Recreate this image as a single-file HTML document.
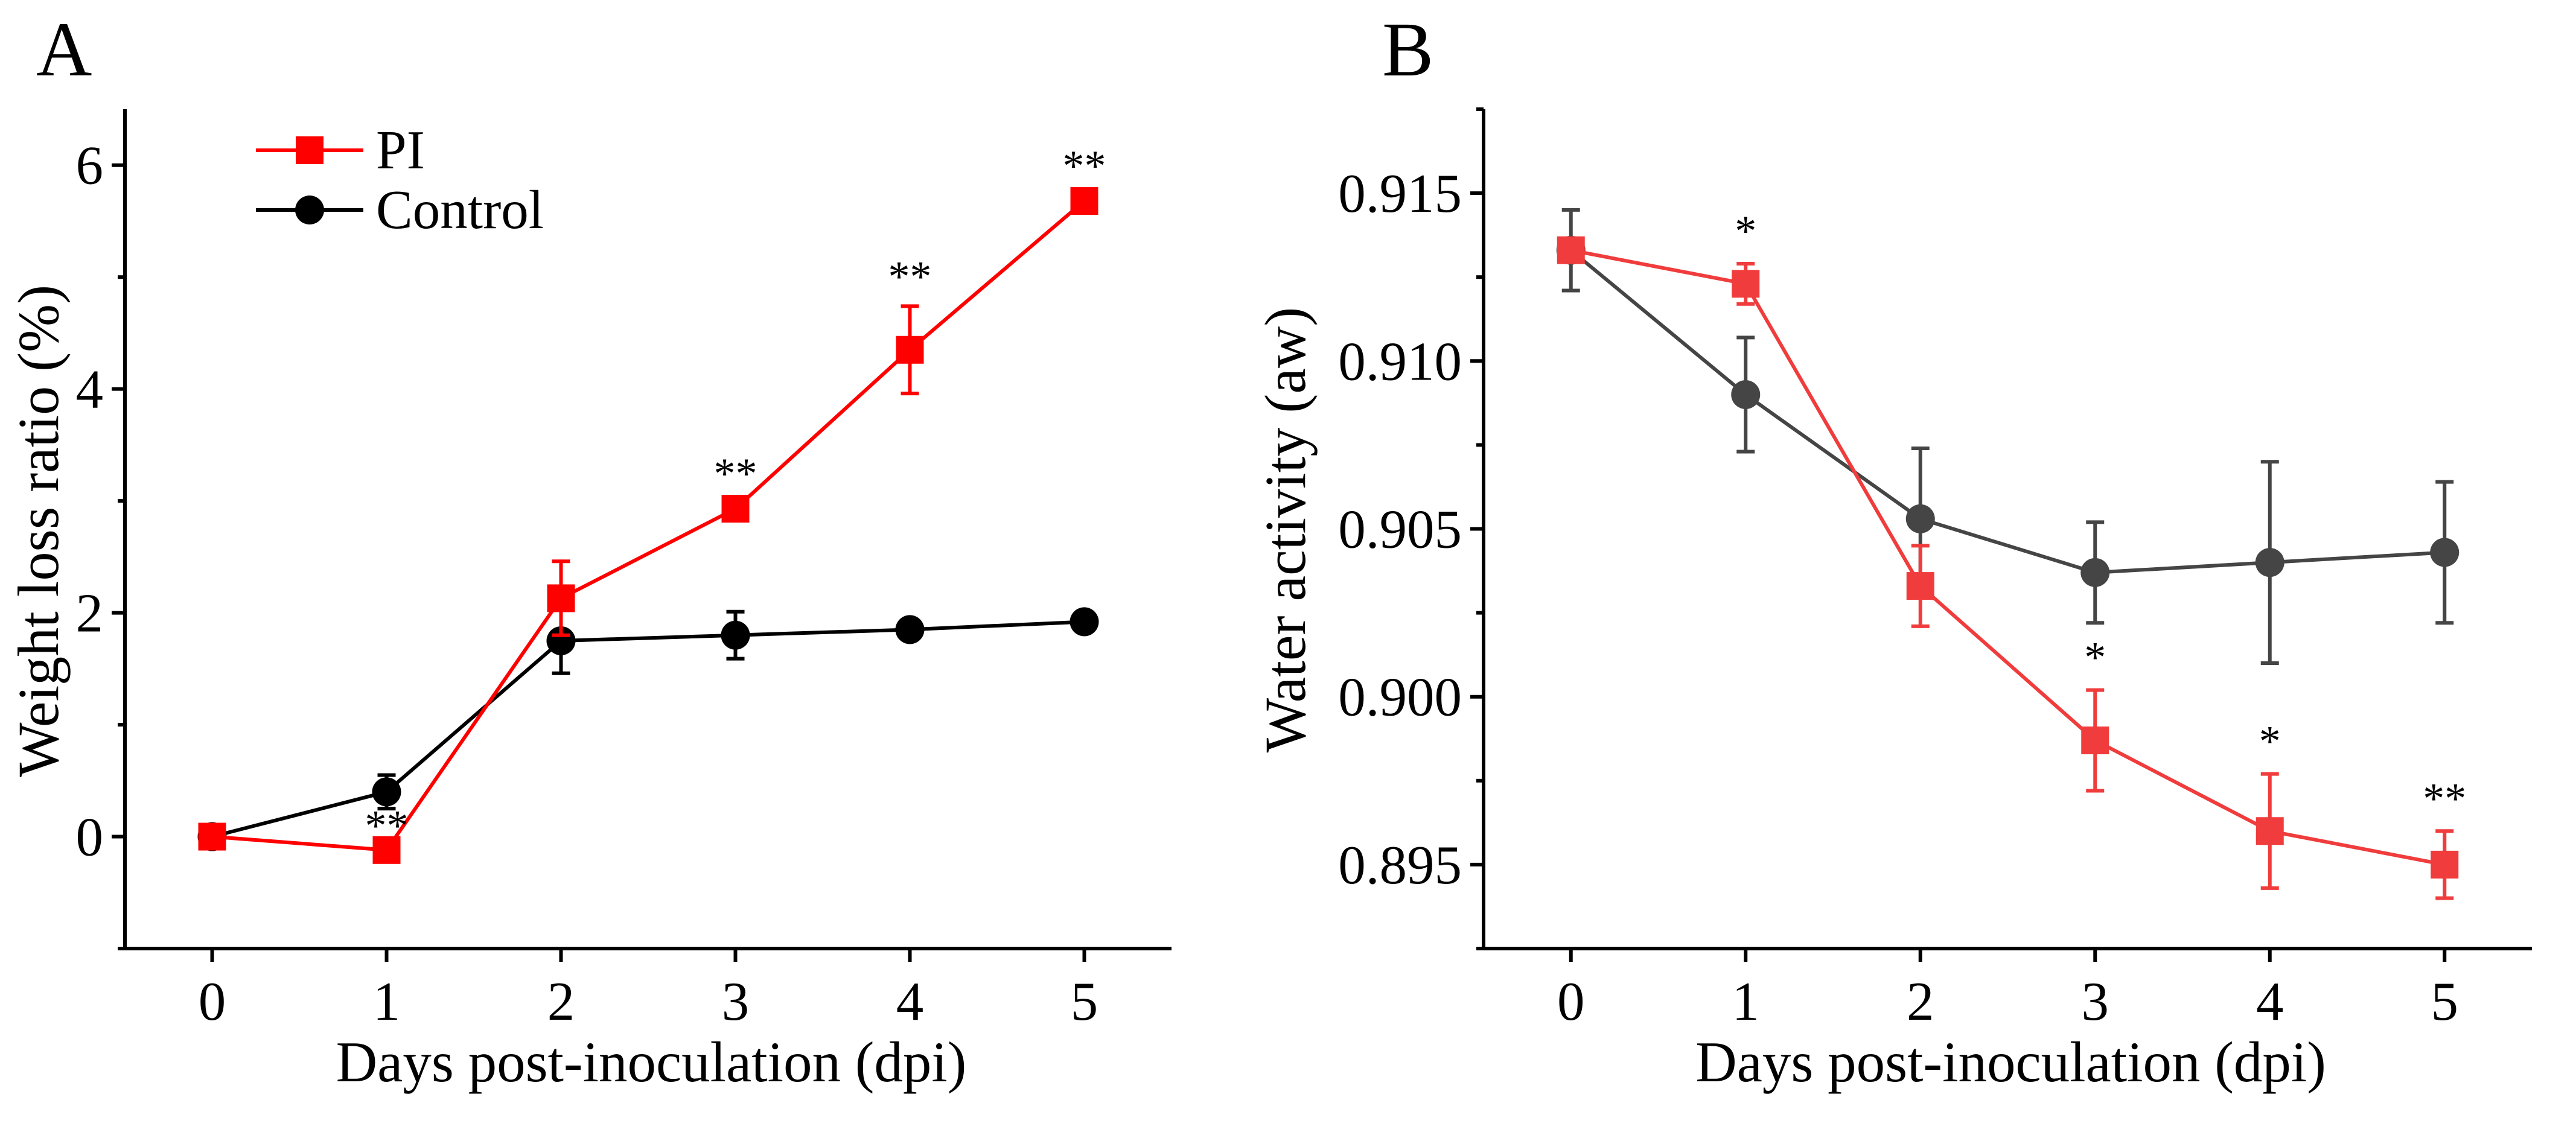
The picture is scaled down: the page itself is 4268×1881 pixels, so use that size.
<!DOCTYPE html>
<html><head><meta charset="utf-8"><style>
html,body{margin:0;padding:0;background:#fff}
svg{display:block;font-family:"Liberation Serif",serif}
</style></head><body>
<svg id="fig" width="4268" height="1881" viewBox="0 0 4268 1881" xmlns="http://www.w3.org/2000/svg"></svg>
<script>
const days = [0,1,2,3,4,5];
const xTicks = ["0","1","2","3","4","5"];
const aPI = [0,-0.12,2.13,2.93,4.35,5.68];
const aPIerr = [0.05,0.05,0.33,0.05,0.39,0.05];
const aCtl = [0,0.40,1.75,1.80,1.85,1.92];
const aCtlErr = [0.05,0.15,0.29,0.21,0.06,0.06];
const aStars = ["","**","","**","**","**"];
const aYTicks = [0,2,4,6];
const aYMinor = [-1,1,3,5];
const bPI = [0.9133,0.9123,0.9033,0.8987,0.8960,0.8950];
const bPIerr = [0.0003,0.0006,0.0012,0.0015,0.0017,0.0010];
const bCtl = [0.9133,0.9090,0.9053,0.9037,0.9040,0.9043];
const bCtlErr = [0.0012,0.0017,0.0021,0.0015,0.0030,0.0021];
const bStars = ["","*","","*","*","**"];
const bYTicks = [0.895,0.900,0.905,0.910,0.915];
const bYMinor = [0.8925,0.8975,0.9025,0.9075,0.9125,0.9175];

const NS="http://www.w3.org/2000/svg";
const svg=document.getElementById('fig');
function el(tag,attrs,parent,text){const e=document.createElementNS(NS,tag);for(const k in attrs)e.setAttribute(k,attrs[k]);if(text!==undefined)e.textContent=text;(parent||svg).appendChild(e);return e;}

function panel(o){
  const g=el('g',{});
  
  
  const sx=v=>o.x0+(v-o.xmin)/(o.xmax-o.xmin)*(o.x1-o.x0);
  const sy=v=>o.y1-(v-o.ymin)/(o.ymax-o.ymin)*(o.y1-o.y0);
  const ya=el('line',{x1:o.x0,y1:o.y0,x2:o.x0,y2:o.y1+3,stroke:'#000','stroke-width':6},g);
  
  const xa=el('line',{x1:o.x0-3,y1:o.y1,x2:o.x1,y2:o.y1,stroke:'#000','stroke-width':6},g);
  
  days.forEach((d,i)=>{
    el('line',{x1:sx(d),y1:o.y1,x2:sx(d),y2:o.y1+22,stroke:'#000','stroke-width':6},g);
    const t=el('text',{x:sx(d),y:o.y1+118,'font-size':91,'text-anchor':'middle'},g,xTicks[i]);
    
  });
  o.yt.forEach(v=>{
    el('line',{x1:o.x0,y1:sy(v),x2:o.x0-22,y2:sy(v),stroke:'#000','stroke-width':6},g);
    const t=el('text',{x:o.x0-36,y:sy(v)+31,'font-size':91,'text-anchor':'end'},g,o.fmt(v));
    
  });
  o.ym.forEach(v=>{el('line',{x1:o.x0,y1:sy(v),x2:o.x0-12,y2:sy(v),stroke:'#000','stroke-width':6},g);});
  const xt=el('text',{x:(o.x0+o.x1)/2+5,y:1792,'font-size':95,'text-anchor':'middle'},g,'Days post-inoculation (dpi)');
  
  const yt=el('text',{x:0,y:0,'font-size':96,'text-anchor':'middle',transform:`translate(${o.ytx},${o.yty}) rotate(-90)`},g,o.ytitle);
  
  const pl=el('text',{x:o.lx,y:125,'font-size':128},g,o.letter);
  
  function series(vals,errs,color,shape,nm){
    const sg=el('g',{},g);
    
    el('polyline',{points:vals.map((v,i)=>sx(days[i])+','+sy(v)).join(' '),fill:'none',stroke:color,'stroke-width':6},sg);
    vals.forEach((v,i)=>{
      const x=sx(days[i]),t=sy(v+errs[i]),b=sy(v-errs[i]);
      const eb=el('path',{d:`M${x},${t}V${b}M${x-15},${t}H${x+15}M${x-15},${b}H${x+15}`,stroke:color,'stroke-width':6,fill:'none'},sg);
      
      let m;
      if(shape==='sq') m=el('rect',{x:x-23,y:sy(v)-23,width:46,height:46,fill:color},sg);
      else m=el('circle',{cx:x,cy:sy(v),r:24,fill:color},sg);
      
    });
  }
  series(o.ctl,o.ctlErr,o.cc,'ci',o.name+'-control-series');
  series(o.pi,o.piErr,o.pc,'sq',o.name+'-pi-series');
  o.stars.forEach((s,i)=>{
    if(!s)return;
    const t=el('text',{x:sx(days[i]),y:o.starY(i),'font-size':72,'text-anchor':'middle'},g,s);
    
  });
  return {g,sx,sy};
}

panel({name:'panel-a',x0:207,x1:1941,y0:181,y1:1572,xmin:-0.5,xmax:5.5,ymin:-1,ymax:6.5,
  yt:aYTicks,ym:aYMinor,fmt:v=>String(v),ytitle:'Weight loss ratio (%)',ytx:96,yty:880,lx:60,letter:'A',
  pi:aPI,piErr:aPIerr,ctl:aCtl,ctlErr:aCtlErr,pc:'#ff0000',cc:'#000',stars:aStars,
  starY:i=>{const sy=v=>1572-(v+1)/7.5*1391;return i===1?sy(aCtl[1])+80:sy(aPI[i]+aPIerr[i])-25;}});
panel({name:'panel-b',x0:2458,x1:4195,y0:181,y1:1572,xmin:-0.5,xmax:5.5,ymin:0.8925,ymax:0.9175,
  yt:bYTicks,ym:bYMinor,fmt:v=>v.toFixed(3),ytitle:'Water activity (aw)',ytx:2162,yty:878,lx:2290,letter:'B',
  pi:bPI,piErr:bPIerr,ctl:bCtl,ctlErr:bCtlErr,pc:'#f03c3c',cc:'#454545',stars:bStars,
  starY:i=>{const sy=v=>1572-(v-0.8925)/0.025*1391;return sy(bPI[i]+bPIerr[i])-30;}});

const lg=el('g',{});

const l1=el('g',{},lg);

el('line',{x1:424,y1:249,x2:602,y2:249,stroke:'#ff0000','stroke-width':6},l1);
el('rect',{x:490,y:226,width:46,height:46,fill:'#ff0000'},l1);
el('text',{x:623,y:279,'font-size':91},l1,'PI');
const l2=el('g',{},lg);

el('line',{x1:424,y1:348,x2:602,y2:348,stroke:'#000','stroke-width':6},l2);
el('circle',{cx:513,cy:348,r:24,fill:'#000'},l2);
el('text',{x:623,y:378,'font-size':91},l2,'Control');
</script>
</body></html>
